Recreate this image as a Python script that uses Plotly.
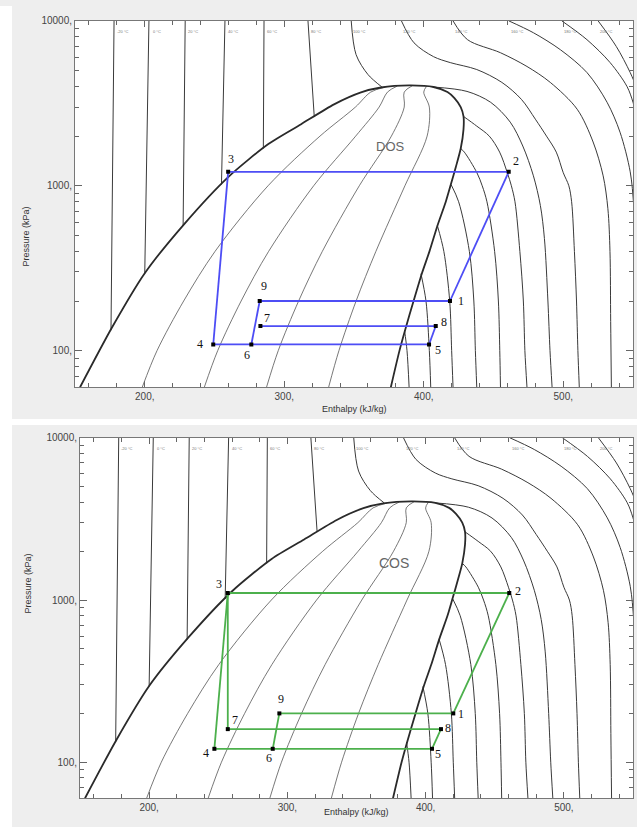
import numpy as np
import plotly.graph_objects as go

# ---------------- R-134a pressure-enthalpy chart data (h in kJ/kg, P in kPa) ----------------
# saturation dome: liquid branch up to the critical point
sat_liq_h = [153.6, 176.4, 200.0, 228.6, 260.0, 288.6, 312.1, 335.7, 355.0, 369.3, 389.6]
sat_liq_p = [60, 137.7, 295, 590, 1133, 1791, 2362, 3118, 3684, 3944, 4059]
# saturation dome: vapour branch from the critical point down
sat_vap_h = [389.6, 407.0, 417.0, 422.0, 426.5, 428.5, 428.5, 426.5, 423.0, 419.4, 415.8, 409.8, 404.1, 398.6, 392.7, 386.6, 382.6, 376.4]
sat_vap_p = [4059, 3972, 3700, 3400, 3000, 2633, 2200, 1682, 1300, 1017, 800, 572, 400, 293, 200, 133, 100, 60]

# constant-quality lines inside the dome (x = 0.2, 0.4, 0.6, 0.8)
quality_p = [60, 100, 200, 400, 1000, 2000, 3000, 3700]
q02_h = [198.2, 208.8, 227.9, 250.4, 288.4, 325.6, 351.0, 362.0]
q04_h = [242.7, 252.3, 269.1, 288.8, 321.1, 351.2, 368.0, 374.0]
q06_h = [287.3, 295.7, 310.3, 327.3, 353.8, 376.8, 386.0, 386.0]
q08_h = [331.8, 339.2, 351.5, 365.7, 386.5, 402.4, 404.0, 400.0]
# where each quality line meets the top of the dome
quality_end_h = [372.0, 381.0, 392.0, 402.0]
quality_end_p = [3960, 4025, 4055, 4010]

# isotherms: compressed-liquid branches (top of chart down to the dome)
tm20_liq_h, tm20_liq_p = [178.0, 175.8], [10000, 133]
t0_liq_h, t0_liq_p = [203.0, 200.0], [10000, 293]
t20_liq_h, t20_liq_p = [229.0, 227.5], [10000, 572]
t40_liq_h, t40_liq_p = [257.5, 255.0], [10000, 1017]
t60_liq_h, t60_liq_p = [285.5, 285.0], [10000, 1682]
t80_liq_h, t80_liq_p = [317.0, 321.5], [10000, 2633]
t100_liq_h, t100_liq_p = [348.0, 351.5, 360.0, 370.0], [10000, 6240, 4730, 3972]

# isotherms: superheated-vapour branches (dome down to the bottom of chart)
tm20_vap_h, tm20_vap_p = [386.2, 388.0, 389.5], [133, 100, 60]
t0_vap_h, t0_vap_p = [398.0, 401.6, 404.0, 405.0], [293, 200, 100, 60]
t20_vap_h, t20_vap_p = [409.8, 414.4, 418.6, 420.0, 421.0], [572, 400, 200, 100, 60]
t40_vap_h, t40_vap_p = [419.6, 425.0, 432.7, 435.9, 437.0, 438.0], [1017, 800, 400, 200, 100, 60]
t60_vap_h = [426.5, 429.1, 438.1, 441.9, 445.3, 450.8, 453.5, 454.5, 455.0]
t60_vap_p = [1682, 1600, 1200, 1000, 800, 400, 200, 100, 60]
t80_vap_h = [428.5, 438.0, 447.0, 454.4, 459.9, 462.8, 465.4, 468.9, 471.4, 472.5, 474.0]
t80_vap_p = [2633, 2300, 2000, 1600, 1200, 1000, 800, 400, 200, 100, 60]
t100_vap_h = [407.0, 431.0, 448.0, 462.0, 471.0, 478.6, 483.6, 486.5, 489.0, 490.5, 492.0]
t100_vap_p = [3972, 3735, 3206, 2432, 1742, 1149, 759, 479, 200, 100, 60]

# supercritical isotherms (single continuous curves)
t120_h = [384.0, 393.0, 407.0, 419.0, 438.0, 456.0, 470.0, 480.0, 488.0, 495.0, 500.0, 504.0, 506.0, 508.0, 509.5, 510.5, 511.5]
t120_p = [10000, 7364, 6070, 5585, 5070, 4236, 3344, 2535, 2000, 1600, 1200, 1000, 800, 400, 200, 100, 60]
t140_h = [421.0, 431.4, 455.0, 474.0, 490.7, 510.0, 521.4, 528.6, 532.0, 533.5, 534.0, 534.5]
t140_p = [10000, 7690, 6410, 5290, 4236, 2911, 1843, 1149, 726, 400, 150, 60]
t160_h = [461.0, 478.6, 498.0, 517.0, 531.4, 540.7, 548.0, 550.5, 552.0, 553.0]
t160_p = [10000, 8475, 6680, 4860, 3210, 2113, 1215, 760, 400, 60]
t180_h = [499.0, 517.0, 533.6, 545.7, 550.0, 556.0]
t180_p = [10000, 7690, 5585, 4000, 3210, 2000]
t200_h = [525.0, 538.0, 548.0, 555.0]
t200_p = [10000, 7000, 4860, 3500]

# isotherm labels along the top edge: temperature and enthalpy where the curve leaves the top
iso_label_t = [-40, -20, 0, 20, 40, 60, 80, 100, 120, 140, 160, 180, 200]
iso_label_h = [149.0, 178.0, 203.0, 229.0, 257.5, 285.5, 317.0, 348.0, 384.0, 421.0, 461.0, 499.0, 525.0]

# refrigeration cycle states: DOS (upper chart)
dos_state = [1, 2, 3, 4, 5, 6, 7, 8, 9]
dos_h = [418.8, 460.9, 259.8, 249.1, 403.8, 276.4, 282.9, 408.6, 282.4]
dos_p = [200, 1215, 1215, 109, 109, 109, 141, 141, 200]
dos_links = [(1, 2), (2, 3), (3, 4), (4, 5), (5, 8), (8, 7), (6, 9), (9, 1)]

# refrigeration cycle states: COS (lower chart)
cos_state = [1, 2, 3, 4, 5, 6, 7, 8, 9]
cos_h = [420.0, 460.5, 256.9, 247.2, 404.6, 289.4, 256.9, 411.1, 294.2]
cos_p = [200, 1105, 1105, 121, 121, 121, 160, 160, 200]
cos_links = [(1, 2), (2, 3), (3, 4), (3, 7), (4, 5), (5, 8), (8, 7), (6, 9), (9, 1)]

# axis ticks
x_major = [200, 300, 400, 500]
x_major_text = ["200,", "300,", "400,", "500,"]
x_minor = [v for v in range(160, 560, 20) if v not in (200, 300, 400, 500)]
y_major = [100, 1000, 10000]
y_major_text = ["100,", "1000,", "10000,"]
y_minor = [60, 70, 80, 90, 200, 300, 400, 500, 600, 700, 800, 900,
           2000, 3000, 4000, 5000, 6000, 7000, 8000, 9000]

# ---------------- figure ----------------
W, H = 637, 827
fig = go.Figure()

liquid_branches = [(tm20_liq_h, tm20_liq_p), (t0_liq_h, t0_liq_p), (t20_liq_h, t20_liq_p),
                   (t40_liq_h, t40_liq_p), (t60_liq_h, t60_liq_p), (t80_liq_h, t80_liq_p),
                   (t100_liq_h, t100_liq_p)]
vapour_branches = [(tm20_vap_h, tm20_vap_p), (t0_vap_h, t0_vap_p), (t20_vap_h, t20_vap_p),
                   (t40_vap_h, t40_vap_p), (t60_vap_h, t60_vap_p), (t80_vap_h, t80_vap_p),
                   (t100_vap_h, t100_vap_p), (t120_h, t120_p), (t140_h, t140_p),
                   (t160_h, t160_p), (t180_h, t180_p), (t200_h, t200_p)]
quality_lines = [q02_h, q04_h, q06_h, q08_h]


def add_line(h, p, xa, ya, color, width, smooth=0.9):
    fig.add_trace(go.Scatter(
        x=h, y=p, xaxis=xa, yaxis=ya, mode="lines",
        line=dict(color=color, width=width, shape="spline", smoothing=smooth),
        hoverinfo="skip", showlegend=False))


panels = [
    dict(xa="x", ya="y", name="DOS", color="#4d4df5",
         h=dos_h, p=dos_p, links=dos_links, state=dos_state,
         label_pos=(376.0, 1720), label_size=13,
         offsets={1: (11, 0), 2: (7, 11), 3: (3, 13), 4: (-13, 0), 5: (9, -6),
                  6: (-4, -11), 7: (7, 8), 8: (8, 4), 9: (4, 15)}),
    dict(xa="x2", ya="y2", name="COS", color="#4cb04c",
         h=cos_h, p=cos_p, links=cos_links, state=cos_state,
         label_pos=(377.0, 1680), label_size=14,
         offsets={1: (8, -1), 2: (9, 2), 3: (-9, 9), 4: (-8, -4), 5: (6, -5),
                  6: (-4, -9), 7: (7, 9), 8: (7, 1), 9: (2, 14)}),
]

annotations = []
for pn in panels:
    xa, ya = pn["xa"], pn["ya"]
    # isotherms
    for h, p in liquid_branches:
        add_line(h, p, xa, ya, "#3a3a3a", 1.0)
    for h, p in vapour_branches:
        add_line(h, p, xa, ya, "#3a3a3a", 1.0)
    # quality lines
    for qh, eh, ep in zip(quality_lines, quality_end_h, quality_end_p):
        add_line(qh + [eh], quality_p + [ep], xa, ya, "#555555", 0.8)
    # saturation dome
    add_line(sat_liq_h + sat_vap_h[1:], sat_liq_p + sat_vap_p[1:], xa, ya, "#2a2a2a", 1.8, 0.7)

    # cycle lines
    idx = {s: i for i, s in enumerate(pn["state"])}
    cx, cy = [], []
    for a, b in pn["links"]:
        cx += [pn["h"][idx[a]], pn["h"][idx[b]], None]
        cy += [pn["p"][idx[a]], pn["p"][idx[b]], None]
    fig.add_trace(go.Scatter(x=cx, y=cy, xaxis=xa, yaxis=ya, mode="lines",
                             line=dict(color=pn["color"], width=1.8),
                             hoverinfo="skip", showlegend=False))
    fig.add_trace(go.Scatter(x=pn["h"], y=pn["p"], xaxis=xa, yaxis=ya, mode="markers",
                             marker=dict(color="black", size=4, symbol="square"),
                             hoverinfo="skip", showlegend=False))

    # state numbers
    for s, h, p in zip(pn["state"], pn["h"], pn["p"]):
        dx, dy = pn["offsets"][s]
        annotations.append(dict(x=h, y=np.log10(p), xref=xa, yref=ya, text=str(s),
                                showarrow=False, xshift=dx, yshift=dy,
                                font=dict(family="Liberation Serif", size=12, color="#111")))
    # case name
    annotations.append(dict(x=pn["label_pos"][0], y=np.log10(pn["label_pos"][1]), xref=xa, yref=ya,
                            text=pn["name"], showarrow=False,
                            font=dict(family="Liberation Sans", size=pn["label_size"], color="#666")))
    # isotherm labels along the top
    for t, h in zip(iso_label_t, iso_label_h):
        annotations.append(dict(x=h, y=np.log10(8600), xref=xa, yref=ya,
                                text=f"{t} °C", showarrow=False, xshift=8,
                                font=dict(family="Liberation Sans", size=4, color="#777")))

# axis titles
title_font = dict(family="Liberation Sans", size=9, color="#333")
for xc, yc in [(354, 406), (356, 819)]:
    annotations.append(dict(x=xc / W, y=1 - yc / H, xref="paper", yref="paper",
                            text="Enthalpy (kJ/kg)", showarrow=False, font=title_font))
for xc, yc in [(19, 200), (21, 614)]:
    annotations.append(dict(x=xc / W, y=1 - yc / H, xref="paper", yref="paper",
                            text="Pressure (kPa)", textangle=-90, showarrow=False, font=title_font))

tick_font = dict(family="Liberation Sans", size=10, color="#444")


def xaxis_cfg(domain):
    return dict(domain=domain, range=[150, 550], type="linear",
                tickmode="array", tickvals=x_major, ticktext=x_major_text,
                ticks="inside", ticklen=6, tickcolor="#666", tickfont=tick_font,
                minor=dict(tickmode="array", tickvals=x_minor, ticks="inside", ticklen=4, tickcolor="#666"),
                showline=True, linecolor="#777", linewidth=1, mirror="allticks",
                showgrid=False, zeroline=False, fixedrange=True)


def yaxis_cfg(domain):
    return dict(domain=domain, range=[np.log10(60), 4.0], type="log",
                tickmode="array", tickvals=y_major, ticktext=y_major_text,
                ticks="inside", ticklen=7, tickcolor="#666", tickfont=tick_font,
                minor=dict(tickmode="array", tickvals=y_minor, ticks="inside", ticklen=4, tickcolor="#666"),
                showline=True, linecolor="#777", linewidth=1, mirror="allticks",
                showgrid=False, zeroline=False, fixedrange=True)


fig.update_layout(
    width=W, height=H, autosize=False,
    margin=dict(l=0, r=0, t=0, b=0),
    paper_bgcolor="#eeeeee", plot_bgcolor="white",
    xaxis=dict(xaxis_cfg([75 / W, 633 / W]), anchor="y"),
    yaxis=dict(yaxis_cfg([1 - 384 / H, 1 - 15 / H]), anchor="x"),
    xaxis2=dict(xaxis_cfg([80 / W, 633 / W]), anchor="y2"),
    yaxis2=dict(yaxis_cfg([1 - 798 / H, 1 - 435 / H]), anchor="x2"),
    annotations=annotations,
    shapes=[
        # white margin on the left and white gap between the two panels
        dict(type="rect", xref="paper", yref="paper", x0=0, x1=12 / W, y0=0, y1=1,
             fillcolor="white", line=dict(width=0), layer="below"),
        dict(type="rect", xref="paper", yref="paper", x0=0, x1=1, y0=1 - 422 / H, y1=1 - 416 / H,
             fillcolor="white", line=dict(width=0), layer="below"),
    ],
    showlegend=False,
)

fig.write_html("out.html")
